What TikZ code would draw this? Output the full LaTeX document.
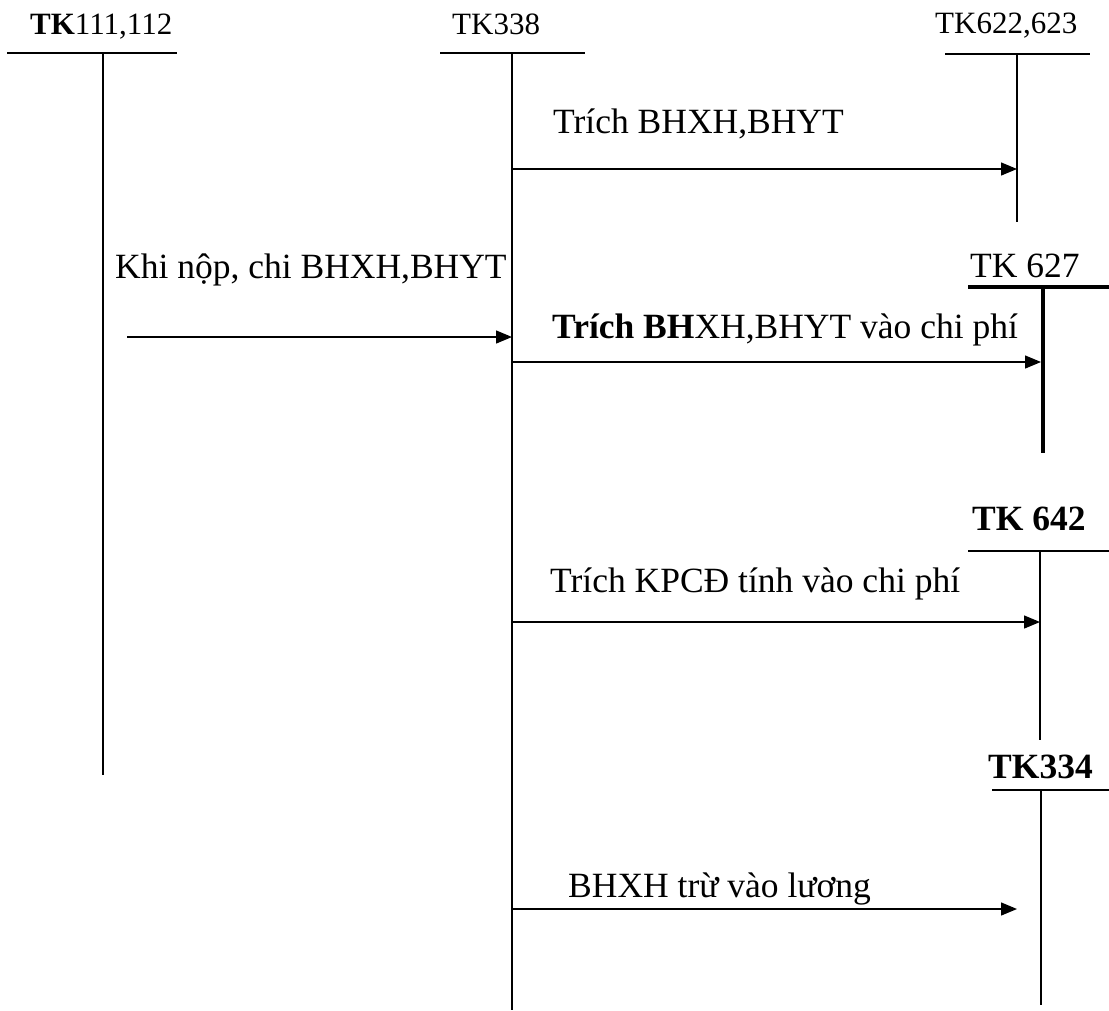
\documentclass[tikz,border=0pt]{standalone}
\usepackage{fontspec}
\setmainfont{Liberation Serif}
\usetikzlibrary{calc,arrows.meta}
\tikzstyle{l1}=[line width=1.4pt]
\tikzstyle{l2}=[line width=3.5pt]
\tikzstyle{acc}=[inner sep=0pt, anchor=base west, font=\fontsize{31}{36}\selectfont]
\tikzstyle{lab}=[inner sep=0pt, anchor=base west, font=\fontsize{35.5}{40}\selectfont]
\tikzstyle{post}=[l1, -{Triangle[length=16pt, width=13pt]}]

\begin{document}
\begin{tikzpicture}[x=1pt, y=-1pt]
    \useasboundingbox (0,0) rectangle (1109,1010);

    % T accounts: name / x / bar y / bar left / bar right / end y
    \foreach \n/\x/\y/\l/\r/\e in {111/103/53/7/177/775, 338/512/53/440/585/1010,
            622/1017/54/945/1090/222, 642/1040/551/968/1109/740, 334/1041/790/992/1109/1005}{
            \coordinate (top\n) at (\x,\y);
            \coordinate (end\n) at (\x,\e);
            \draw[l1] (\l,\y) -- (\r,\y);
            \draw[l1] (top\n) -- (end\n);
        }
    \coordinate (top627) at (1043,287);
    \coordinate (end627) at (1043,453);
    \draw[l2] (968,287) -- (1109,287);
    \draw[l2] (top627) -- (end627);

    \node[acc] (n111) at (30,34) {\textbf{TK}111,112};
    \node[acc] (n338) at (452,34) {TK338};
    \node[acc] (n622) at (935,33) {TK622,623};
    \node[lab] (n627) at (970,277) {TK 627};
    \node[lab] (n642) at (972,530) {\textbf{TK 642}};
    \node[lab] (n334) at (988,778) {\textbf{TK334}};

    % postings
    \coordinate (s1) at (512,169); \coordinate (d1) at (1017,169);
    \coordinate (s2) at (127,337); \coordinate (d2) at (512,337);
    \coordinate (s3) at (512,362); \coordinate (d3) at (1041,362);
    \coordinate (s4) at (512,622); \coordinate (d4) at (1040,622);
    \coordinate (s5) at (512,909); \coordinate (d5) at (1017,909);
    \draw[post] (s1) -- (d1);
    \draw[post] (s2) -- (d2);
    \draw[post] (s3) -- (d3);
    \draw[post] (s4) -- (d4);
    \draw[post] (s5) -- (d5);

    \node[lab] (p1) at (553,133) {Trích BHXH,BHYT};
    \node[lab] (p2) at (115,278) {Khi nộp, chi BHXH,BHYT};
    \node[lab] (p3) at (552,338) {\textbf{Trích BH}XH,BHYT vào chi phí};
    \node[lab] (p4) at (550,592) {Trích KPCĐ tính vào chi phí};
    \node[lab] (p5) at (568,897) {BHXH trừ vào lương};

\end{tikzpicture}
\end{document}
